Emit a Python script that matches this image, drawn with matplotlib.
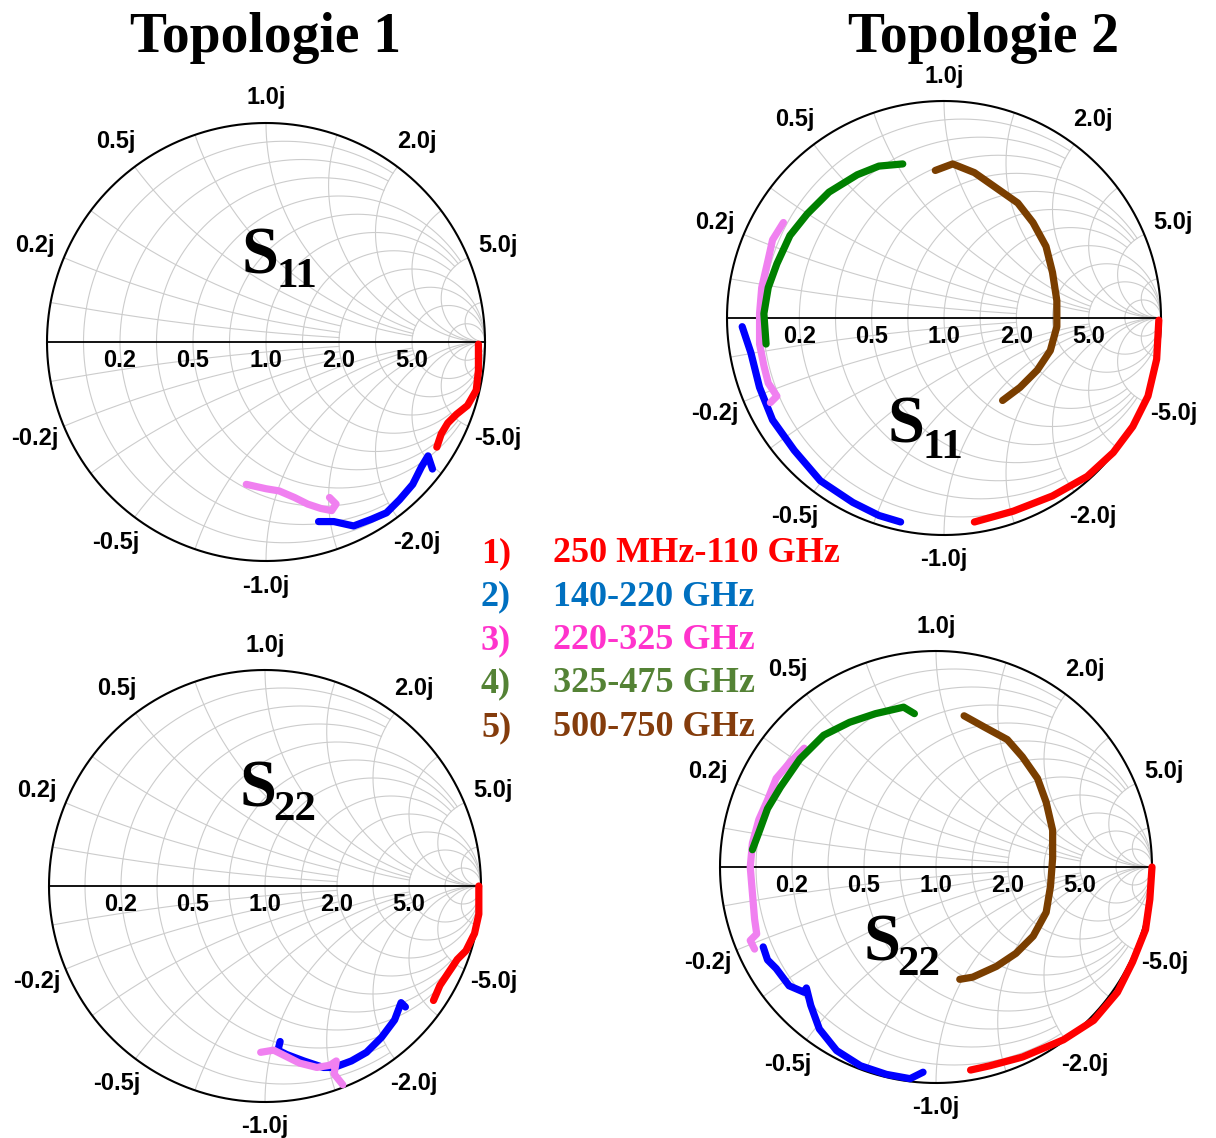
import numpy as np
import matplotlib
matplotlib.use("Agg")
import matplotlib.pyplot as plt

# Figure size in pixels
W, H = 1216, 1138

# Smith chart tick values
real_ticks = [0.2, 0.5, 1.0, 2.0, 5.0]
imag_ticks = [0.2, 0.5, 1.0, 2.0, 5.0]
grid_values = [1 / 11, 0.2, 1 / 3, 0.5, 5 / 7, 1.0, 1.4, 2.0, 3.0, 5.0, 11.0]

# Legend entries
band_numbers = ["1)", "2)", "3)", "4)", "5)"]
band_labels = ["250 MHz-110 GHz", "140-220 GHz", "220-325 GHz", "325-475 GHz", "500-750 GHz"]
band_text_colors = ["#FF0000", "#0070C0", "#FF33CC", "#548235", "#843C0C"]
trace_colors = ["#FF0000", "#0000FF", "#F080F0", "#008000", "#7A3E00"]

# Topologie 1, S11
t1_s11_band1_re = [0.97, 0.97, 0.96, 0.92, 0.87, 0.83, 0.80, 0.78]
t1_s11_band1_im = [-0.01, -0.13, -0.22, -0.29, -0.33, -0.37, -0.42, -0.48]
t1_s11_band2_re = [0.76, 0.74, 0.71, 0.67, 0.61, 0.55, 0.48, 0.40, 0.31, 0.24]
t1_s11_band2_im = [-0.58, -0.52, -0.57, -0.65, -0.72, -0.78, -0.81, -0.84, -0.82, -0.82]
t1_s11_band3_re = [-0.09, 0.00, 0.06, 0.13, 0.19, 0.25, 0.30, 0.32, 0.29]
t1_s11_band3_im = [-0.65, -0.67, -0.68, -0.71, -0.74, -0.76, -0.77, -0.74, -0.71]

# Topologie 1, S22
t1_s22_band1_re = [0.99, 0.99, 0.97, 0.93, 0.89, 0.85, 0.81, 0.78]
t1_s22_band1_im = [-0.00, -0.13, -0.22, -0.30, -0.34, -0.40, -0.46, -0.53]
t1_s22_band2_re = [0.65, 0.63, 0.60, 0.54, 0.47, 0.40, 0.32, 0.27, 0.24, 0.18, 0.10, 0.06, 0.07]
t1_s22_band2_im = [-0.56, -0.54, -0.62, -0.70, -0.77, -0.81, -0.84, -0.84, -0.83, -0.81, -0.78, -0.76, -0.72]
t1_s22_band3_re = [-0.02, 0.04, 0.10, 0.16, 0.24, 0.30, 0.33, 0.32, 0.36]
t1_s22_band3_im = [-0.77, -0.76, -0.79, -0.82, -0.84, -0.83, -0.81, -0.87, -0.92]

# Topologie 2, S11
t2_s11_band1_re = [0.99, 0.98, 0.94, 0.87, 0.78, 0.66, 0.50, 0.32, 0.14]
t2_s11_band1_im = [-0.01, -0.19, -0.36, -0.50, -0.62, -0.73, -0.82, -0.89, -0.94]
t2_s11_band2_re = [-0.93, -0.89, -0.85, -0.79, -0.69, -0.57, -0.42, -0.30, -0.20]
t2_s11_band2_im = [-0.04, -0.16, -0.32, -0.47, -0.61, -0.75, -0.85, -0.91, -0.94]
t2_s11_band3_re = [-0.74, -0.79, -0.81, -0.84, -0.85, -0.85, -0.83, -0.81, -0.77, -0.80]
t2_s11_band3_im = [0.44, 0.36, 0.27, 0.14, 0.02, -0.12, -0.22, -0.30, -0.36, -0.39]
t2_s11_band4_re = [-0.82, -0.83, -0.81, -0.77, -0.71, -0.63, -0.53, -0.40, -0.30, -0.19]
t2_s11_band4_im = [-0.12, 0.02, 0.14, 0.25, 0.38, 0.48, 0.58, 0.66, 0.70, 0.71]
t2_s11_band5_re = [-0.04, 0.04, 0.14, 0.24, 0.34, 0.41, 0.47, 0.50, 0.52, 0.52, 0.49, 0.43, 0.35, 0.27]
t2_s11_band5_im = [0.68, 0.71, 0.67, 0.60, 0.53, 0.44, 0.33, 0.21, 0.08, -0.04, -0.15, -0.24, -0.32, -0.38]

# Topologie 2, S22
t2_s22_band1_re = [1.00, 0.99, 0.97, 0.91, 0.84, 0.73, 0.59, 0.40, 0.25, 0.16]
t2_s22_band1_im = [-0.00, -0.15, -0.29, -0.44, -0.58, -0.71, -0.80, -0.88, -0.92, -0.94]
t2_s22_band2_re = [-0.80, -0.78, -0.74, -0.68, -0.61, -0.60, -0.58, -0.54, -0.46, -0.35, -0.23, -0.12, -0.06]
t2_s22_band2_im = [-0.37, -0.43, -0.47, -0.55, -0.58, -0.56, -0.64, -0.75, -0.85, -0.92, -0.96, -0.98, -0.95]
t2_s22_band3_re = [-0.61, -0.68, -0.74, -0.78, -0.82, -0.85, -0.86, -0.85, -0.84, -0.83, -0.86, -0.84]
t2_s22_band3_im = [0.55, 0.48, 0.41, 0.31, 0.22, 0.11, 0.00, -0.12, -0.24, -0.31, -0.34, -0.38]
t2_s22_band4_re = [-0.85, -0.82, -0.78, -0.72, -0.63, -0.52, -0.40, -0.28, -0.15, -0.10]
t2_s22_band4_im = [0.08, 0.16, 0.27, 0.37, 0.50, 0.61, 0.67, 0.71, 0.74, 0.71]
t2_s22_band5_re = [0.13, 0.22, 0.33, 0.40, 0.47, 0.51, 0.54, 0.54, 0.53, 0.51, 0.45, 0.37, 0.28, 0.17, 0.11]
t2_s22_band5_im = [0.70, 0.65, 0.59, 0.51, 0.41, 0.30, 0.17, 0.04, -0.09, -0.21, -0.32, -0.40, -0.46, -0.51, -0.52]

charts = [
    # center x, center y, radius (pixels), subscript, label position
    dict(cx=266, cy=342, r=219, sub="11", s_pos=(-0.11, 0.315), sub_pos=(0.05, 0.25),
         traces=[(t1_s11_band1_re, t1_s11_band1_im, 0), (t1_s11_band2_re, t1_s11_band2_im, 1),
                 (t1_s11_band3_re, t1_s11_band3_im, 2)]),
    dict(cx=944, cy=318, r=217, sub="11", s_pos=(-0.26, -0.575), sub_pos=(-0.10, -0.645),
         traces=[(t2_s11_band1_re, t2_s11_band1_im, 0), (t2_s11_band2_re, t2_s11_band2_im, 1),
                 (t2_s11_band3_re, t2_s11_band3_im, 2), (t2_s11_band4_re, t2_s11_band4_im, 3),
                 (t2_s11_band5_re, t2_s11_band5_im, 4)]),
    dict(cx=265, cy=886, r=216, sub="22", s_pos=(-0.12, 0.37), sub_pos=(0.04, 0.305),
         traces=[(t1_s22_band1_re, t1_s22_band1_im, 0), (t1_s22_band2_re, t1_s22_band2_im, 1),
                 (t1_s22_band3_re, t1_s22_band3_im, 2)]),
    dict(cx=936, cy=867, r=216, sub="22", s_pos=(-0.335, -0.435), sub_pos=(-0.18, -0.50),
         traces=[(t2_s22_band1_re, t2_s22_band1_im, 0), (t2_s22_band2_re, t2_s22_band2_im, 1),
                 (t2_s22_band3_re, t2_s22_band3_im, 2), (t2_s22_band4_re, t2_s22_band4_im, 3),
                 (t2_s22_band5_re, t2_s22_band5_im, 4)]),
]

serif = "Liberation Serif"
sans = "Liberation Sans"
grid_color = "#cccccc"


def gamma(z):
    return (z - 1) / (z + 1)


def grid_limit(v):
    # Minor grid lines stop early so the right side does not get crowded
    if v < 0.4:
        return 2.0
    if v < 1.5:
        return 5.0
    return np.inf


def draw_smith_grid(ax):
    for v in grid_values:
        lim = grid_limit(v)
        # Resistance circle
        a = np.arctan(lim) if np.isfinite(lim) else np.pi / 2 - 1e-4
        x = np.tan(np.linspace(-a, a, 600))
        g = gamma(v + 1j * x)
        ax.plot(g.real, g.imag, color=grid_color, lw=0.8, zorder=1)
        # Reactance arcs
        r = np.tan(np.linspace(0, a, 600))
        for s in (1, -1):
            g = gamma(r + 1j * s * v)
            ax.plot(g.real, g.imag, color=grid_color, lw=0.8, zorder=1)
    t = np.linspace(0, 2 * np.pi, 800)
    ax.plot(np.cos(t), np.sin(t), color="black", lw=1.5, zorder=2)
    ax.plot([-1, 1], [0, 0], color="black", lw=1.3, zorder=2)


def draw_tick_labels(ax):
    for v in real_ticks:
        ax.text(gamma(v), -0.085, "%.1f" % v, ha="center", va="center",
                fontsize=17, fontweight="bold", family=sans)
    for v in imag_ticks:
        for s in (1, -1):
            g = gamma(1j * s * v)
            ang = np.angle(g)
            rad = 1.115 if v == 1.0 else 1.145
            label = "%.1fj" % (s * v)
            ax.text(rad * np.cos(ang), rad * np.sin(ang), label, ha="center", va="center",
                    fontsize=17, fontweight="bold", family=sans)


fig = plt.figure(figsize=(W / 100, H / 100), dpi=100)
L = 1.35

for ch in charts:
    cx, cy, R = ch["cx"], ch["cy"], ch["r"]
    ax = fig.add_axes([(cx - L * R) / W, (H - cy - L * R) / H, 2 * L * R / W, 2 * L * R / H])
    ax.set_xlim(-L, L)
    ax.set_ylim(-L, L)
    ax.axis("off")
    draw_smith_grid(ax)
    draw_tick_labels(ax)
    for re, im, k in ch["traces"]:
        ax.plot(re, im, color=trace_colors[k], lw=5.2, solid_capstyle="round",
                solid_joinstyle="round", zorder=3)
    ax.text(ch["s_pos"][0], ch["s_pos"][1], "S", ha="left", va="baseline",
            fontsize=48, fontweight="bold", family=serif, zorder=4)
    ax.text(ch["sub_pos"][0], ch["sub_pos"][1], ch["sub"], ha="left", va="baseline",
            fontsize=31, fontweight="bold", family=serif, zorder=4)

# Column titles
fig.text(265 / W, 1 - 52 / H, "Topologie 1", ha="center", va="baseline",
         fontsize=40, fontweight="bold", family=serif)
fig.text(984 / W, 1 - 52 / H, "Topologie 2", ha="center", va="baseline",
         fontsize=40, fontweight="bold", family=serif)

# Frequency band legend
for i in range(len(band_labels)):
    y = 1 - (562 + i * 43.5) / H
    fig.text(481 / W, y, band_numbers[i], ha="left", va="baseline", fontsize=26,
             fontweight="bold", family=serif, color=band_text_colors[i])
    fig.text(553 / W, y, band_labels[i], ha="left", va="baseline", fontsize=26,
             fontweight="bold", family=serif, color=band_text_colors[i])

plt.savefig("out.png", dpi=100)
